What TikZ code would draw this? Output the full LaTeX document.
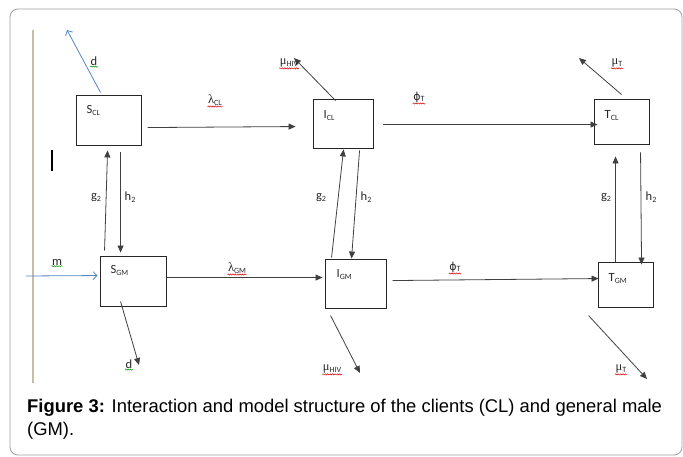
\documentclass[tikz,border=0pt]{standalone}
\usepackage{fontspec}
\setmainfont{Carlito}
\newfontfamily\capfont{Liberation Sans}
\newfontfamily\grkfont{Liberation Serif}
\newfontfamily\phifont{DejaVu Sans}
\usetikzlibrary{arrows.meta,decorations.pathmorphing}
\definecolor{bluec}{RGB}{84,132,196}
\definecolor{tanc}{RGB}{200,190,160}
\definecolor{framec}{RGB}{160,160,160}
\newcommand{\sbx}[1]{\raisebox{-1.8pt}{\fontsize{8}{9}\selectfont #1}}
\newcommand{\mug}{{\grkfont μ}}
\newcommand{\lamg}{{\grkfont λ}}
\newcommand{\phig}{{\phifont\fontsize{11}{12}\selectfont ϕ}}
\tikzset{
  box/.style={draw=black!85, line width=0.9pt, inner sep=0pt},
  arr/.style={draw=black!75, line width=0.8pt, -{Triangle[length=7pt,width=6pt]}},
  barr/.style={draw=bluec, line width=0.8pt, -{Straight Barb[length=4pt,width=8pt]}},
  lab/.style={font=\fontsize{12.5}{13}\selectfont, inner sep=0.5pt, text=black!85},
  wavyr/.style={draw=red!85!black, line width=0.5pt, decorate, decoration={snake, amplitude=0.6pt, segment length=2.4pt}},
  wavyg/.style={draw=green!60!black, line width=0.5pt, decorate, decoration={snake, amplitude=0.6pt, segment length=2.4pt}}
}
\begin{document}
\begin{tikzpicture}[x=1pt,y=-1pt]
\useasboundingbox (0,0) rectangle (683,457);
% frame
\draw[framec, line width=0.8pt, rounded corners=8pt] (10,9) rectangle (682,455);
% tan vertical line
\draw[tanc, line width=1.5pt] (33,30) -- (33,383);
% cursor bar
\draw[black, line width=1.4pt] (52,150) -- (52,171);
% boxes
\node[box, minimum width=65pt, minimum height=50pt] (scl) at (108.5,120) {};
\node[box, minimum width=60pt, minimum height=49pt] (icl) at (343,123.5) {};
\node[box, minimum width=55pt, minimum height=45pt] (tcl) at (621.5,121.5) {};
\node[box, minimum width=66pt, minimum height=50pt] (sgm) at (133,281) {};
\node[box, minimum width=61pt, minimum height=49pt] (igm) at (355.5,283.5) {};
\node[box, minimum width=55pt, minimum height=45pt] (tgm) at (625.5,284.5) {};
% box labels
\node[lab, anchor=base west] (sclt) at (86,114) {S\sbx{CL}};
\node[lab, anchor=base west] (iclt) at (323,119) {I\sbx{CL}};
\node[lab, anchor=base west] (tclt) at (604,119) {T\sbx{CL}};
\node[lab, anchor=base west] (sgmt) at (110,274) {S\sbx{GM}};
\node[lab, anchor=base west] (igmt) at (336,278) {I\sbx{GM}};
\node[lab, anchor=base west] (tgmt) at (608,282) {T\sbx{GM}};
% free ends
\coordinate (dtop) at (67,30);
\coordinate (mutopI) at (294,58);
\coordinate (mutopT) at (579,58);
\coordinate (mstart) at (26,276);
\coordinate (dbot) at (139,365);
\coordinate (mubotI) at (360,373);
\coordinate (mubotT) at (647,379);
% blue arrows
\draw[barr] ([shift={(25,-2)}]scl.north west) -- (dtop);
\draw[barr] (mstart) -- ([shift={(-2,20)}]sgm.north west);
% horizontal transfers
\draw[arr] ([shift={(72,33)}]scl.north west) -- ([shift={(-17,28)}]icl.north west);
\draw[arr] ([shift={(70,26)}]icl.north west) -- ([shift={(4,26)}]tcl.north west);
\draw[arr] ([shift={(67,22)}]sgm.north west) -- ([shift={(-2,19)}]igm.north west);
\draw[arr] ([shift={(68,22)}]igm.north west) -- ([shift={(1,17)}]tgm.north west);
% vertical transfers
\draw[arr] ([shift={(5,-5)}]sgm.north west) -- ([shift={(32,5)}]scl.south west);
\draw[arr] ([shift={(45,7)}]scl.south west) -- ([shift={(21,-3)}]sgm.north west);
\draw[arr] ([shift={(7,-1)}]igm.north west) -- ([shift={(31,1)}]icl.south west);
\draw[arr] ([shift={(47,2)}]icl.south west) -- ([shift={(27,0)}]igm.north west);
\draw[arr] ([shift={(18,0)}]tgm.north west) -- ([shift={(22,12)}]tcl.south west);
\draw[arr] ([shift={(47,8)}]tcl.south west) -- ([shift={(44,3)}]tgm.north west);
% exits
\draw[arr] ([shift={(23,2)}]icl.north west) -- (mutopI);
\draw[arr] ([shift={(28,-4)}]tcl.north west) -- (mutopT);
\draw[arr] ([shift={(21,46)}]sgm.north west) -- (dbot);
\draw[arr] ([shift={(6,57)}]igm.north west) -- (mubotI);
\draw[arr] ([shift={(-9,54)}]tgm.north west) -- (mubotT);
% arrow labels
\node[lab] (ld1) at (94,61) {d};
\node[lab] (llcl) at (215,100) {\lamg\sbx{CL}};
\node[lab] (lmu1) at (289,63) {\mug\sbx{HIV}};
\node[lab] (lphi1) at (419,97) {\phig\sbx{T}};
\node[lab] (lmuT1) at (617,63) {\mug\sbx{T}};
\node[lab] (lg1) at (96,198) {g\sbx{2}};
\node[lab] (lh1) at (130,197) {h\sbx{2}};
\node[lab] (lg2) at (321,198) {g\sbx{2}};
\node[lab] (lh2) at (366,197) {h\sbx{2}};
\node[lab] (lg3) at (606,198) {g\sbx{2}};
\node[lab] (lh3) at (651,197) {h\sbx{2}};
\node[lab] (lm) at (57,262) {m};
\node[lab] (llgm) at (237,268) {\lamg\sbx{GM}};
\node[lab] (lphi2) at (455,267) {\phig\sbx{T}};
\node[lab] (ld2) at (129,364) {d};
\node[lab] (lmu2) at (332,369) {\mug\sbx{HIV}};
\node[lab] (lmuT2) at (621,369) {\mug\sbx{T}};
% spell-check underlines
\foreach \n in {llcl,lmu1,lphi1,lmuT1,llgm,lphi2,lmu2,lmuT2}
  \draw[wavyr] ([yshift=-0.5pt]\n.south west) -- ([yshift=-0.5pt]\n.south east);
\foreach \n in {ld1,lm,ld2}
  \draw[wavyg] ([yshift=-0.5pt]\n.south west) -- ([yshift=-0.5pt]\n.south east);
% caption
\node[anchor=base west, inner sep=0pt, align=left, font=\capfont\fontsize{18.4}{23}\selectfont] (cap) at (27,435)
  {\textbf{Figure 3:} Interaction and model structure of the clients (CL) and general male\\(GM).};
\end{tikzpicture}
\end{document}
